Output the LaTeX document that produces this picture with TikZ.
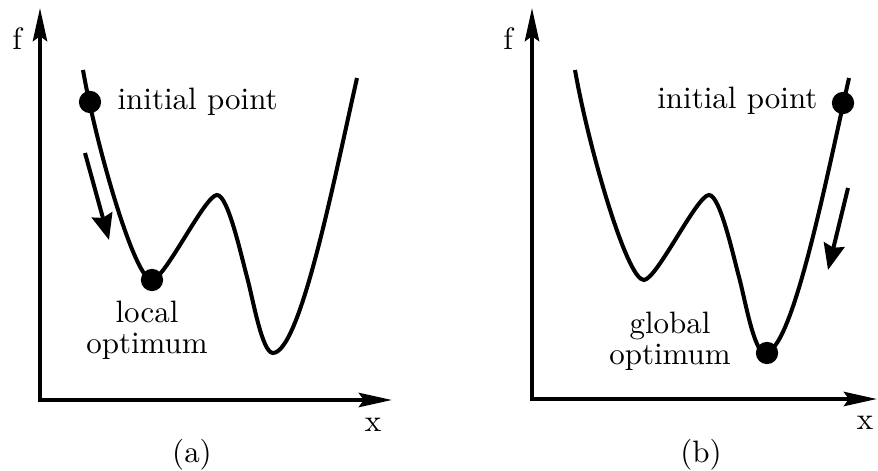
\documentclass[tikz,border=0pt]{standalone}
\usepackage{tikz}
\usetikzlibrary{arrows.meta}

% the same landscape is used in both panels
\newcommand{\costcurve}{%
  \draw[curve] (83,70) .. controls (96,145) and (135,281) .. (152,280)
    .. controls (165,279) and (205,195) .. (217,195)
    .. controls (228,195) and (241,255) .. (247,277)
    .. controls (253,299) and (262,353) .. (273,353)
    .. controls (300,352) and (333,185) .. (357,78);}

\begin{document}
\begin{tikzpicture}[
    x=0.323pt, y=-0.323pt,
    font={\fontsize{10}{10}\selectfont},
    >={Stealth[length=10.7pt, width=4.6pt, inset=1.6pt]},
    % --- styles ---
    axis/.style    = {<->, line width=1.3pt},
    curve/.style   = {line width=1.3pt},
    dot/.style     = {circle, fill=black, inner sep=0pt, minimum size=7.2pt},
    move/.style    = {-{Stealth[length=8.4pt, width=6.8pt, inset=1pt]}, line width=1.3pt},
    lbl/.style     = {anchor=base, inner sep=0pt},
    twoline/.style = {align=center, inner sep=0pt}
]
\useasboundingbox (0,0) rectangle (878,471);

% ===================== (a) local search =====================
\coordinate (Oa) at (40,400);
\coordinate (Ya) at (40,8);
\coordinate (Xa) at (392,400);
\draw[axis] (Ya) -- (Oa) -- (Xa);
\node[lbl] (fa)   at (17,50)   {f};
\node[lbl] (xa)   at (373,432) {x};
\node[lbl] (capa) at (192,463) {(a)};

\costcurve
\node[dot] (starta) at (90,102)  {};
\node[dot] (opta)   at (152,280) {};
\node[lbl, anchor=base west] (inita) at (117,110) {initial point};
\node[twoline] (loca) at (147,330) {local\\ optimum};

\coordinate (mva1) at (85,153);
\coordinate (mva2) at (109,240);
\draw[move] (mva1) -- (mva2);

% ===================== (b) global search =====================
\coordinate (Ob) at (532,399);
\coordinate (Yb) at (532,8);
\coordinate (Xb) at (877,399);
\draw[axis] (Yb) -- (Ob) -- (Xb);
\node[lbl] (fb)   at (508,50)  {f};
\node[lbl] (xb)   at (865,430) {x};
\node[lbl] (capb) at (701,463) {(b)};

\begin{scope}[shift={(492,0)}]
  \costcurve
\end{scope}
\node[dot] (startb) at (843,103) {};
\node[dot] (optb)   at (767,353) {};
\node[lbl, anchor=base east] (initb) at (818,109) {initial point};
\node[twoline] (globb) at (670,341) {global\\ optimum};

\coordinate (mvb1) at (848,188);
\coordinate (mvb2) at (828,270);
\draw[move] (mvb1) -- (mvb2);

\end{tikzpicture}
\end{document}
